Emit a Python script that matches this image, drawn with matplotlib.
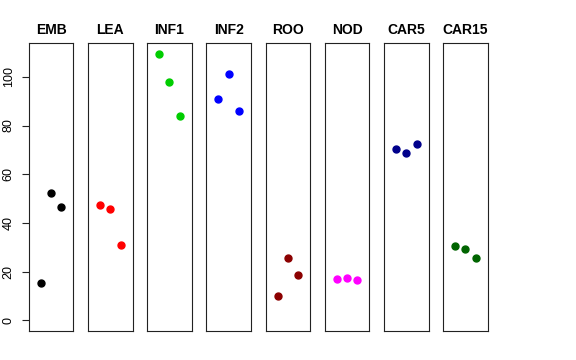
import numpy as np
import matplotlib.pyplot as plt

plt.rcParams['font.family'] = ['Liberation Sans', 'DejaVu Sans']

# groups and their three replicate values
groups = ['EMB', 'LEA', 'INF1', 'INF2', 'ROO', 'NOD', 'CAR5', 'CAR15']
emb = [15.2, 52.3, 46.6]
lea = [47.4, 45.6, 31.1]
inf1 = [109.4, 97.7, 83.8]
inf2 = [90.7, 101.0, 86.0]
roo = [10.1, 25.5, 18.6]
nod = [17.0, 17.5, 16.4]
car5 = [70.4, 68.9, 72.5]
car15 = [30.5, 29.4, 25.5]
values = [emb, lea, inf1, inf2, roo, nod, car5, car15]
colors = ['black', 'red', '#00CD00', 'blue', '#8B0000', 'magenta', '#00008B', '#006400']
yticks = [0, 20, 40, 60, 80, 100]

fig = plt.figure(figsize=(5.76, 3.6), dpi=100)

ymax = max(max(v) for v in values)
pad_y = 0.04 * ymax
left0 = 28.7 / 576
width = 44.7 / 576
step = 59.2 / 576
bottom = 1 - 331 / 360
height = (331 - 43.3) / 360

for i, (name, vals, col) in enumerate(zip(groups, values, colors)):
    ax = fig.add_axes([left0 + i * step, bottom, width, height])
    x = np.arange(1, len(vals) + 1)
    ax.plot(x, vals, 'o', color=col, markersize=5)
    ax.set_xlim(-0.16, 4.16)
    ax.set_ylim(-pad_y, ymax + pad_y)
    ax.set_xticks([])
    for s in ax.spines.values():
        s.set_linewidth(0.8)
        s.set_color('#222222')
    ax.set_title(name, fontsize=10, fontweight='bold', pad=7)
    if i == 0:
        ax.set_yticks(yticks)
        ax.tick_params(axis='y', length=5, width=0.8, labelsize=9, pad=5,
                       labelrotation=90, colors='#222222')
        plt.setp(ax.get_yticklabels(), va='center', color='black')
    else:
        ax.set_yticks([])

plt.savefig('out.png', dpi=100)
